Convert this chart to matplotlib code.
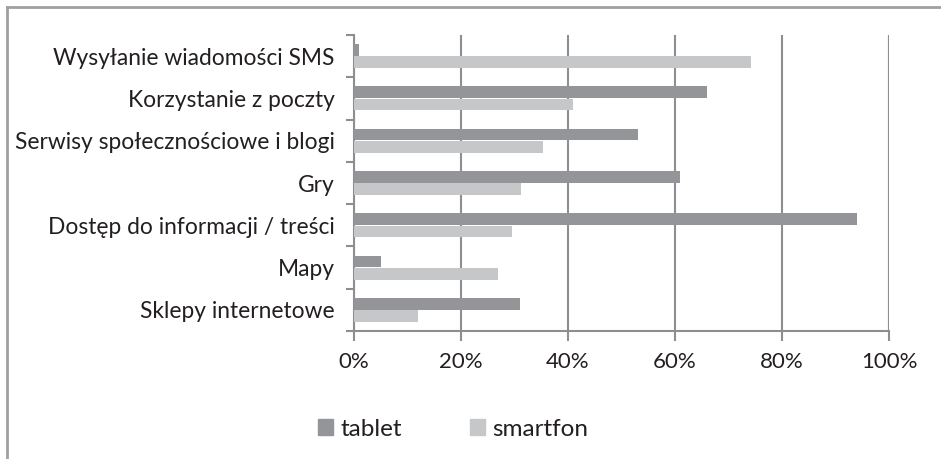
import matplotlib.pyplot as plt
import numpy as np
from matplotlib.lines import Line2D
from matplotlib.patches import Patch
from matplotlib.ticker import FuncFormatter

plt.rcParams['font.family'] = ['Lato', 'DejaVu Sans']

categories = ['Wysyłanie wiadomości SMS', 'Korzystanie z poczty',
              'Serwisy społecznościowe i blogi', 'Gry',
              'Dostęp do informacji / treści', 'Mapy', 'Sklepy internetowe']
tablet = [1, 66, 53, 61, 94, 5, 31]
smartfon = [74.2, 41, 35.4, 31.3, 29.5, 27, 12]
series = ['tablet', 'smartfon']

c_tablet = '#939598'
c_smart = '#c6c7c9'
c_grid = '#8e8e90'
c_text = '#231f20'

fig = plt.figure(figsize=(9.41, 4.59), dpi=100)
ax = fig.add_axes([354 / 941, 1 - 331 / 459, 535 / 941, 296 / 459])

y = np.arange(len(categories))
h = 0.276
ax.barh(y - 0.145, tablet, height=h, color=c_tablet, zorder=3)
ax.barh(y + 0.145, smartfon, height=h, color=c_smart, zorder=3)

ax.set_xlim(0, 100)
ax.set_ylim(len(categories) - 0.5, -0.5)

ax.set_xticks(range(0, 101, 20))
ax.xaxis.set_major_formatter(FuncFormatter(lambda v, p: f'{int(v)}%'))
ax.set_yticks(y)
ax.set_yticklabels(categories)
ax.set_yticks(np.arange(-0.5, len(categories)), minor=True)
ax.tick_params(axis='y', which='major', length=0, pad=14, labelsize=16.4, labelcolor=c_text)
ax.tick_params(axis='y', which='minor', length=6, width=1.5, color=c_grid)
ax.tick_params(axis='x', length=7, width=1.5, color=c_grid, pad=8, labelsize=16, labelcolor=c_text)

ax.grid(axis='x', color=c_grid, linewidth=1.5, zorder=0)
for s in ['top', 'right']:
    ax.spines[s].set_visible(False)
for s in ['left', 'bottom']:
    ax.spines[s].set_color(c_grid)
    ax.spines[s].set_linewidth(1.5)
ax.axvline(100, color=c_grid, linewidth=1.5, zorder=0)

handles = [Patch(color=c_tablet), Patch(color=c_smart)]
fig.legend(handles, series, loc='center left', bbox_to_anchor=(318 / 941, 1 - 429 / 459),
           ncol=2, frameon=False, fontsize=17.5, handlelength=0.62, handleheight=0.62,
           handletextpad=0.3, columnspacing=2.8, labelcolor=c_text, borderaxespad=0,
           borderpad=0)

# ramka wykresu (obcięta z prawej i z dołu)
fig.add_artist(Line2D([6.5 / 941, 6.5 / 941], [0, 1 - 6.5 / 459], color='#a0a0a2', linewidth=2, transform=fig.transFigure))
fig.add_artist(Line2D([6.5 / 941, 1], [1 - 6.5 / 459, 1 - 6.5 / 459], color='#a0a0a2', linewidth=2, transform=fig.transFigure))

fig.savefig('out.png', dpi=100)
